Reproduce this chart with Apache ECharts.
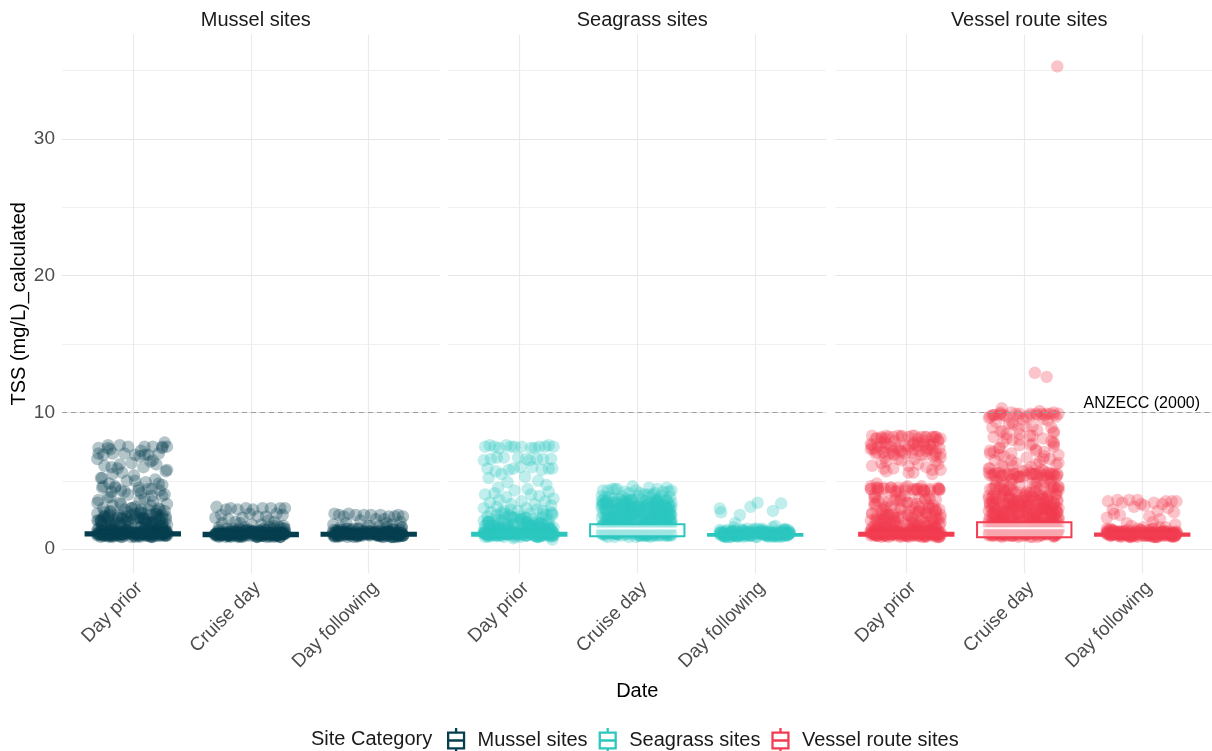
<!DOCTYPE html>
<html>
<head>
<meta charset="utf-8">
<script src="https://cdn.jsdelivr.net/npm/echarts@6/dist/echarts.min.js"></script>
<style>html,body{margin:0;padding:0;background:#fff}#chart{width:1212px;height:751px}</style>
</head>
<body>
<div id="chart"></div>
<script>
const DATES = ['Day prior', 'Cruise day', 'Day following'];
const SITES = ['Mussel sites', 'Seagrass sites', 'Vessel route sites'];
const COLORS = ['#053e4e', '#2bc7bf', '#f23c51'];
const Y_TICKS = [0, 5, 10, 15, 20, 25, 30, 35];
const Y_LABELS = [0, 10, 20, 30];
const X_TICKS = [1, 2, 3];
const ANZECC = 10;
const ANZECC_LABEL = 'ANZECC (2000)';
// fixed jitter offsets (category units), used cyclically
const JITTER = [-0.04, 0.25, -0.21, 0.10, -0.29, 0.17, -0.11, 0.29, -0.17, 0.02, 0.22, -0.25, 0.13, -0.07, 0.27, -0.19, 0.06, -0.30, 0.15, -0.01, 0.20, -0.24, 0.09, -0.13, 0.28, -0.09, 0.01, -0.27, 0.19, -0.05, 0.11, -0.20, 0.25, -0.15, 0.05, -0.26, 0.16, -0.10, 0.23, -0.18, 0.07];

// ---- Mussel sites ----
const musselPrior = [7.5,7.4,7.6,7.5,7.4,7.5,7.6,7.5,7.0,6.9,7.0,6.9,6.9,7.0,7.8,7.3,6.8,6.6,6.4,6.3,6.2,6.1,6.0,5.9,5.7,5.6,5.4,5.2,5.1,5.0,4.9,4.8,4.7,4.6,4.5,4.5,4.4,4.3,4.3,4.2,4.1,4.0,3.9,3.8,3.7,3.6,3.5,3.4,3.3,3.2,3.1,3.0,3.0,2.9,2.9,2.8,2.7,2.7,2.6,2.5,2.5,2.4,2.4,2.3,2.3,2.2,2.2,2.2,2.1,2.1,2.0,2.0,2.0,1.9,1.9,1.9,1.8,1.8,1.7,1.7,1.7,1.6,1.6,1.6,1.5,1.5,1.5,1.5,
1.1,1.0,1.2,0.9,1.3,1.1,1.0,1.4,1.2,1.1,0.9,1.0,1.3,1.2,1.1,1.0,1.2,1.1,1.3,0.9,1.0,1.1,1.4,1.2,1.0,1.1,1.3,1.0,1.2,1.1,0.9,1.2,1.0,1.1,1.3,1.4,1.1,1.0,1.2,1.1,1.0,1.3,1.2,0.9,1.1,1.0,1.2,1.3,1.1,1.0,1.4,1.2,1.1,1.0,0.9,1.2,1.3,1.1,1.0,1.2,1.1,1.0,1.3,1.2,1.4,1.1,0.9,1.0,1.2,1.1,1.3,1.0,1.1,1.2,1.0];
const musselPriorMore = [2.9,2.7,2.5,2.3,2.2,2.1,2.0,1.9,1.8,1.7,2.6,2.4,2.2,2.0,1.8,1.6,2.8,2.3,2.1,1.9,3.0,2.6,2.4,2.2,
1.2,1.0,1.1,1.3,0.9,1.2,1.1,1.0,1.3,1.1,1.2,1.0,1.4,1.1,0.9,1.2,1.0,1.1,1.3,1.2,1.0,1.1,1.2,0.9,1.3,1.1,1.0,1.2,1.1,1.0,1.4,1.2,1.1,1.3,1.0,1.2,0.9,1.1,1.2,1.0,1.3,1.1,1.0,1.2,1.1,1.0,1.3,1.2,1.1,1.0,1.2,1.1,1.0,1.3,1.1,1.2];
const musselPriorDense = [1.5,1.4,1.6,1.3,1.5,1.2,1.4,1.1,1.6,1.0,1.3,1.5,1.2,1.4,1.1,1.3,1.0,1.2,1.5,1.1,1.4,1.2,1.3,1.0,1.1,1.2,1.4,1.3,1.1,1.2,2.0,1.8,2.2,1.9,2.4,1.7,2.1,2.3,1.8,2.0,2.5,2.2,1.9,2.7,2.1];
const musselPriorUpper = [7.5,7.4,6.9,7.0,6.5,6.2,5.8,5.5,5.0,4.8,4.6,4.4,4.2,4.0,3.8,3.6,3.4,3.2,3.0,2.8,2.7,2.6,2.5,2.4,2.3,2.2,2.1,2.6,2.4,2.2,2.5,2.3,4.5,4.3,5.2,3.9,3.3,2.9,6.0,7.2];
const musselCruise = [3.0,3.0,2.9,3.0,3.1,3.0,2.9,3.0,3.0,2.9,2.6,2.5,2.4,2.3,2.5,2.2,2.4,2.3,2.1,2.6,2.0,1.9,1.8,2.0,1.7,1.9,1.8,1.6,1.7,1.6,1.5,1.5,1.6,1.5,
1.0,1.1,0.9,1.2,1.0,1.1,1.3,1.0,0.9,1.1,1.2,1.0,1.1,0.9,1.2,1.0,1.3,1.1,1.0,1.2,0.9,1.1,1.0,1.2,1.1,1.0,1.3,0.9,1.1,1.2,1.0,1.1,1.0,1.2,0.9,1.1,1.3,1.0,1.1,1.2,1.0,0.9,1.1,1.0,1.2,1.1,1.3,1.0,1.1,0.9,1.2,1.0,1.1,1.2,1.0,1.1,0.9,1.3,1.0,1.2,1.1,1.0,1.1,1.2,0.9,1.0,1.1,1.2,1.0,1.1];
const musselCruiseMore = [1.4,1.3,1.5,1.4,1.3,1.4,1.5,1.3,
1.1,1.0,1.2,1.1,0.9,1.0,1.2,1.1,1.3,1.0,1.1,1.2,0.9,1.1,1.0,1.2,1.1,1.0,1.3,1.1,1.0,1.2,1.1,0.9,1.0,1.2,1.1,1.0,1.1,1.2,1.0,1.3,1.1,1.0,1.2,1.1,0.9,1.1,1.0,1.2,1.1,1.0,1.2,1.1,1.3,1.0,1.1,1.2];
const musselCruiseDense = [1.2,1.0,1.3,1.1,1.4,1.2,0.9,1.3,1.1,1.0,1.2,1.5,1.1,1.3,1.0,1.2,1.4,1.1,1.2,1.0,1.3,1.1,1.2,1.4,1.0,1.1,1.3,1.2,1.1,1.0,1.2,1.3,1.1,1.4,1.2,1.0,1.1,1.3,1.2,1.1,1.6,1.5,1.7];
const musselFollowing = [2.5,2.5,2.4,2.5,2.6,2.4,2.5,2.4,2.6,2.5,2.4,2.5,2.2,2.1,2.0,1.9,2.2,1.8,1.9,1.7,1.8,1.6,1.7,1.5,1.6,1.5,
1.1,1.0,1.2,1.1,0.9,1.3,1.0,1.1,1.2,1.0,1.1,0.9,1.2,1.1,1.0,1.3,1.1,1.2,1.0,0.9,1.1,1.2,1.0,1.1,1.3,1.0,1.2,0.9,1.1,1.0,1.2,1.1,1.0,1.3,1.1,0.9,1.2,1.0,1.1,1.2,1.0,1.1,1.3,0.9,1.0,1.2,1.1,1.0,1.1,1.2,0.9,1.3,1.0,1.1,1.2,1.0,1.1,0.9,1.2,1.1,1.0,1.3,1.1,1.0,1.2,1.1,0.9,1.0,1.2,1.1];
const musselFollowingMore = [1.4,1.5,1.3,1.4,1.6,1.3,1.5,1.4,
1.0,1.2,1.1,1.0,1.3,1.1,0.9,1.2,1.0,1.1,1.2,1.0,1.1,1.3,1.0,1.2,1.1,0.9,1.1,1.2,1.0,1.1,1.3,1.0,1.2,1.1,1.0,1.1,1.2,0.9,1.0,1.2,1.1,1.0,1.3,1.1,1.2,1.0,1.1,1.2,1.0,1.1,0.9,1.2,1.1,1.0,1.3,1.1];
const musselFollowingDense = [1.3,1.1,1.2,1.0,1.4,1.2,1.1,1.3,1.0,1.2,1.5,1.1,1.3,1.2,1.0,1.4,1.1,1.2,1.3,1.0,1.1,1.2,1.4,1.3,1.1,1.0,1.2,1.1,1.3,1.2,1.0,1.1,1.4,1.2,1.3,1.1,1.6,1.5,1.7,1.4];
// box stats: [lower whisker, Q1, median, Q3, upper whisker]
const musselBox = [[0.85,1.0,1.1,1.25,1.6],[0.85,0.95,1.05,1.2,1.5],[0.85,0.98,1.08,1.2,1.5]];

// ---- Seagrass sites ----
const seagrassPrior = [7.5,7.6,7.5,7.4,7.5,7.5,7.6,7.5,7.4,7.5,7.5,7.6,7.4,7.5,6.6,6.7,6.6,6.5,6.6,6.7,6.6,6.6,6.5,6.7,5.9,5.8,6.0,5.9,5.8,5.9,6.0,5.7,5.9,5.5,5.3,5.2,5.0,4.9,4.7,4.5,4.4,4.3,4.2,4.1,4.0,4.0,3.9,3.8,3.7,3.6,3.5,3.5,3.4,3.3,3.3,3.2,3.1,3.0,3.0,2.9,2.8,2.8,2.7,2.6,2.6,2.5,2.5,2.4,2.4,2.3,2.3,2.2,2.2,2.1,2.1,2.0,2.0,2.0,1.9,1.9,1.9,1.8,1.8,1.8,1.7,1.7,1.7,1.6,1.6,1.6,1.5,1.5,1.5,1.5,1.4,1.4,1.4,
1.1,1.0,1.2,0.9,1.3,1.1,1.0,1.4,1.2,0.7,1.1,0.9,1.0,1.3,1.2,1.1,1.0,1.2,1.1,1.3,0.9,1.0,1.1,1.4,1.2,1.0,1.1,1.3,1.0,1.2,1.1,0.9,1.2,1.0,1.1,1.3,1.4,1.1,1.0,1.2,1.1,1.0,1.3,1.2,0.9,1.1,1.0,1.2,1.3,1.1,1.0,1.4,1.2,1.1,1.0,0.8,1.2,1.3,1.1,1.0,1.2,1.1,1.0,1.3,1.2,1.4,1.1,0.9,1.0,1.2,1.1,1.3,1.0,1.1,1.2,1.0,1.1,1.3,1.2,1.0];
const seagrassPriorMore = [2.9,2.7,2.5,2.3,2.1,2.0,1.9,1.8,1.7,1.6,2.8,2.6,2.4,2.2,2.0,1.9,1.8,1.7,1.6,1.5,2.7,2.3,2.0,1.8,1.6,2.5,2.1,1.7,
1.2,1.0,1.1,1.3,0.9,1.2,1.1,1.0,1.3,1.1,1.2,1.0,1.4,1.1,0.9,1.2,1.0,1.1,1.3,1.2,1.0,1.1,1.2,0.9,1.3,1.1,1.0,1.2,1.1,1.0,1.4,1.2,1.1,1.3,1.0,1.2,0.9,1.1,1.2,1.0,1.3,1.1];
const seagrassPriorDense = [1.5,1.3,1.7,1.2,1.9,1.4,1.1,1.6,2.2,1.3,1.8,1.0,2.4,1.5,1.2,2.0,1.4,1.7,1.1,2.6,1.3,1.6,1.9,1.2,1.5,2.1,1.0,1.4,2.3,1.8,1.2,1.6,1.1,1.3,2.0,1.5,1.7,1.2,1.4,1.9,1.3,1.1,1.6,1.5,1.2];
const seagrassCruise = [4.6,4.5,4.4,4.5,4.3,4.4,4.2,4.3,4.4,4.1,4.2,4.3,4.0,4.1,4.2,4.4,4.0,3.9,4.1,4.3,
3.9,3.8,4.0,3.9,3.8,3.7,3.9,3.8,3.7,3.6,3.8,3.7,3.6,3.7,3.6,3.5,3.6,3.5,3.6,3.5,
3.5,3.4,3.5,3.4,3.4,3.3,3.4,3.3,3.4,3.3,3.3,3.2,3.3,3.2,3.2,3.1,3.2,3.1,3.2,3.1,
3.1,3.0,3.1,3.0,3.0,2.9,3.0,2.9,3.0,2.9,2.9,2.8,2.9,2.8,2.8,2.7,2.8,2.7,2.8,2.7,
2.7,2.6,2.7,2.6,2.6,2.5,2.6,2.5,2.6,2.5,2.5,2.4,2.5,2.4,2.4,2.3,2.4,2.3,2.4,2.3,
2.3,2.2,2.3,2.2,2.2,2.1,2.2,2.1,2.2,2.1,2.1,2.0,2.1,2.0,2.0,1.9,2.0,1.9,2.0,1.9,
1.9,1.8,1.9,1.8,1.9,1.8,1.8,1.7,1.8,1.7,1.8,1.7,1.7,1.6,1.7,1.6,1.7,1.6,1.6,1.5,
1.6,1.5,1.6,1.5,1.5,1.4,1.5,1.4,1.5,1.4,1.4,1.3,1.4,1.3,1.4,1.3,1.3,1.2,1.3,1.2,
1.3,1.2,1.2,1.1,1.2,1.1,1.2,1.1,1.1,1.0,1.1,1.0,1.1,1.0,1.0,0.9,1.0,0.9,1.0,0.9,
1.1,1.2,1.0,1.3,1.1,1.4,1.2,1.0,1.5,1.1,1.3,1.2,1.0,1.4,1.6,1.1,1.2,1.3,1.0,1.5];
const seagrassCruiseMore = [3.6,3.4,3.2,3.0,2.8,2.6,2.4,2.2,2.0,1.8,3.5,3.3,3.1,2.9,2.7,2.5,2.3,2.1,1.9,1.7,
3.4,3.2,3.0,2.8,2.6,2.4,2.2,2.0,1.8,1.6,3.3,3.1,2.9,2.7,2.5,2.3,2.1,1.9,1.7,1.5,
3.5,3.0,2.5,2.0,1.5,3.2,2.7,2.2,1.7,1.4,3.6,2.9,2.4,1.9,1.3,3.1,2.6,2.1,1.6,1.2,
1.4,1.2,1.0,1.3,1.1,0.9,1.5,1.2,1.0,1.3,1.1,1.4,1.2,1.0,1.3,1.1,0.9,1.2,1.0,1.1,
1.6,1.4,1.2,1.8,1.3,1.1,1.7,1.5,1.0,1.9,1.4,1.2,1.6,1.3,1.1,1.5,1.0,1.7,1.2,1.4];
const seagrassCruiseDense = [3.5,2.9,2.3,1.7,1.1,3.3,2.7,2.1,1.5,1.0,3.1,2.5,1.9,1.3,3.4,2.8,2.2,1.6,1.2,3.0,
2.4,1.8,1.4,3.2,2.6,2.0,1.5,1.1,3.6,2.9,2.3,1.8,1.3,3.4,2.7,2.1,1.6,1.0,3.1,2.5,
2.0,1.4,3.3,2.8,2.2,1.7,1.2,3.0,2.4,1.9,1.5,3.5,2.6,2.1,1.6,1.1,3.2,2.5,1.8,1.3,
2.9,2.3,1.7,1.2,3.4,2.7,2.0,1.5,1.0,3.1,2.4,1.9,1.4,3.3,2.6,2.2,1.6,1.1,2.8,2.1,
1.7,1.3,3.0,2.5,1.8,1.2,3.5,2.7,2.3,1.6,1.4,3.2,2.9,2.0,1.5,1.1,2.4,1.9,3.6,2.2];
const seagrassFollowing = [3.1,1.4,1.2,1.3,2.7,1.1,1.4,1.2,1.9,3.4,3.35,1.3,1.1,1.5,1.0,1.2,1.4,2.98,2.8,1.3,1.1,1.4,1.0,2.5,
1.1,1.0,1.2,1.1,0.9,1.3,1.0,1.1,1.2,1.0,1.1,0.9,1.2,1.1,1.0,1.3,1.1,1.2,1.0,0.9,1.1,1.2,1.0,1.1,1.3,1.0,1.2,0.9,1.1,1.0,1.2,1.1,1.0,1.3,1.1,0.9,1.2,1.0,1.1,1.2,1.0,1.1,1.3,0.9,1.0,1.2,1.1,1.0,1.1,1.2,0.9,1.3,1.0,1.1,1.2,1.0,1.6,1.1,1.0,1.5,1.2,1.1,1.0,1.7,1.1];
const seagrassFollowingMore = [1.2,1.0,1.1,1.3,0.9,1.2,1.1,1.0,1.3,1.1,1.2,1.0,1.4,1.1,0.9,1.2,1.0,1.1,1.3,1.2,1.0,1.1,1.2,0.9,1.3,1.1,1.0,1.2,1.1,1.0,1.4,1.2,1.1,1.3,1.0,1.2,0.9,1.1,1.2,1.0,1.3,1.1,1.0,1.2,1.1,1.0,1.3,1.2,1.1,1.0,1.5,1.4,1.6,1.5];
const seagrassFollowingDense = [1.1,1.3,1.0,1.2,1.4,1.1,0.9,1.2,1.3,1.0,1.1,1.2,1.4,1.0,1.3,1.1,1.2,0.9,1.1,1.3,1.2,1.0,1.4,1.1,1.2,1.3,1.0,1.1,1.2,1.4,1.5,1.3,1.1,1.2,1.0];
const seagrassBox = [[0.8,0.98,1.08,1.2,1.5],[0.85,0.95,1.52,1.83,3.15],[0.8,0.98,1.05,1.12,1.3]];

// ---- Vessel route sites ----
const vesselPrior = [8.3,8.2,8.2,8.1,8.3,8.2,8.2,8.1,8.3,8.2,8.2,8.1,8.2,8.3,
7.9,7.8,7.8,7.7,7.7,7.6,7.6,7.5,7.5,7.5,7.4,7.4,7.3,7.3,7.3,7.2,7.2,7.1,7.1,7.0,7.0,7.0,6.9,6.9,
6.8,6.7,6.6,6.5,6.4,6.3,6.2,6.1,6.0,5.9,5.8,5.7,5.6,5.5,
4.8,4.6,4.5,4.5,4.4,4.4,4.4,4.3,4.3,4.3,4.5,4.4,4.3,4.4,4.2,4.6,
4.0,3.9,3.8,3.7,3.6,3.6,3.5,3.4,3.3,3.7,3.6,
3.2,3.1,3.0,2.9,2.8,2.7,2.7,2.6,2.6,2.5,2.5,3.0,2.8,
2.4,2.4,2.3,2.3,2.2,2.2,2.1,2.1,2.0,2.0,2.0,1.9,1.9,1.9,1.8,1.8,1.8,1.7,1.7,1.7,1.6,1.6,1.6,1.5,1.5,1.5,2.3,2.1,1.9,1.7,
1.1,1.0,1.2,0.9,1.3,1.1,1.0,1.4,1.2,1.1,0.9,1.0,1.3,1.2,1.1,1.0,1.2,1.1,1.3,0.9,1.0,1.1,1.4,1.2,1.0,1.1,1.3,1.0,1.2,1.1,0.9,1.2,1.0,1.1,1.3,1.4,1.1,1.0,1.2,1.1,1.0,1.3,1.2,0.9,1.1,1.0,1.2,1.3,1.1,1.0,1.4,1.2,1.1,1.0,0.9,1.2,1.3,1.1,1.0,1.2,1.1,1.0,1.3,1.2,1.4,1.1,0.9,1.0,1.2,1.1,1.3,1.0,1.1,1.2,1.0,1.1,1.3,1.2,1.0,1.4];
const vesselPriorMore = [8.2,8.1,8.3,8.2,8.2,8.1,7.8,7.6,7.4,7.2,7.0,7.7,7.5,7.3,7.1,6.9,6.6,6.2,5.9,5.6,
4.4,4.3,4.5,4.4,4.3,4.4,4.5,4.3,3.6,3.4,3.2,3.0,3.5,3.1,
2.9,2.7,2.5,2.3,2.1,1.9,1.7,1.5,2.8,2.6,2.4,2.2,2.0,1.8,1.6,2.7,2.3,1.9,1.6,2.5,
1.2,1.0,1.1,1.3,0.9,1.2,1.1,1.0,1.3,1.1,1.2,1.0,1.4,1.1,0.9,1.2,1.0,1.1,1.3,1.2,1.0,1.1,1.2,0.9,1.3,1.1,1.0,1.2,1.1,1.0,1.4,1.2,1.1,1.3,1.0,1.2,0.9,1.1,1.2,1.0,1.3,1.1,1.5,1.4];
const vesselPriorDense = [7.4,8.0,7.1,7.7,7.3,7.9,7.0,7.6,4.4,4.3,4.5,4.4,4.2,3.4,3.8,3.1,3.6,
2.8,2.2,1.6,2.5,1.9,1.3,2.7,2.0,1.5,2.4,1.8,1.2,2.9,2.1,1.4,2.6,1.7,1.1,2.3,1.6,1.0,3.0,2.2,1.5,
1.3,1.1,1.2,1.0,1.4,1.2,1.1,1.3,1.0,1.2,1.5,1.1,1.3,1.2,1.0,1.4,1.1,1.2,1.3,1.6];
const vesselPriorUpper = [8.2,8.3,8.1,8.2,7.9,7.7,7.5,7.3,7.1,6.9,7.8,7.6,7.4,7.2,7.0,6.7,6.4,6.1,5.8,4.5,4.4,4.3,4.4,4.5,4.3,4.6,4.2,3.9,3.7,3.5,3.3,3.1,2.9,2.7,2.5,3.4,3.2,3.0,2.8,2.6,2.4,2.2,2.0,3.8,3.6,2.3,2.1,1.9,1.7,1.5];
const vesselCruise = [9.9,10.0,9.8,9.9,9.7,9.8,10.0,9.9,9.8,9.7,9.9,9.8,10.1,9.9,9.7,10.3,9.8,9.6,9.9,9.5,9.4,9.3,
12.9,9.2,35.3,9.1,9.0,8.9,12.6,
8.8,8.7,8.6,8.5,8.4,8.3,8.2,8.1,8.0,7.9,7.8,7.7,7.6,7.5,7.4,7.3,7.2,7.1,7.0,6.9,6.8,6.7,6.6,6.5,6.4,6.3,6.2,6.1,6.0,5.9,
5.8,5.7,5.6,5.6,5.5,5.5,5.5,5.5,5.4,5.4,5.4,5.3,5.3,5.3,5.5,5.4,5.6,5.5,5.2,5.1,5.0,4.9,4.8,4.7,4.6,4.5,4.5,4.4,4.4,4.3,4.3,4.2,4.2,4.1,4.1,4.0,4.0,4.0,3.9,3.9,3.9,3.8,3.8,3.8,3.7,3.7,3.7,3.6,3.6,3.6,3.5,3.5,3.5,3.5,
3.4,3.4,3.3,3.4,3.3,3.4,3.3,3.2,3.3,3.2,3.3,3.2,3.1,3.2,3.1,3.2,3.1,3.0,3.1,3.0,
3.1,3.0,2.9,3.0,2.9,3.0,2.9,2.8,2.9,2.8,2.9,2.8,2.7,2.8,2.7,2.8,2.7,2.6,2.7,2.6,
2.7,2.6,2.5,2.6,2.5,2.6,2.5,2.4,2.5,2.4,2.5,2.4,2.3,2.4,2.3,2.4,2.3,2.2,2.3,2.2,
2.3,2.2,2.1,2.2,2.1,2.2,2.1,2.0,2.1,2.0,2.1,2.0,1.9,2.0,1.9,2.0,1.9,1.8,1.9,1.8,
1.9,1.8,1.7,1.8,1.7,1.8,1.7,1.6,1.7,1.6,1.7,1.6,1.5,1.6,1.5,1.6,1.5,1.4,1.5,1.4,
1.5,1.4,1.3,1.4,1.3,1.4,1.3,1.2,1.3,1.2,1.3,1.2,1.1,1.2,1.1,1.2,1.1,1.0,1.1,1.0,
1.1,1.0,0.9,1.0,0.9,1.0,0.9,1.1,1.2,1.0,1.3,1.1,1.4,1.2,1.0,1.5,1.1,1.3,1.2,1.0,
1.4,1.6,1.1,1.2,1.3,1.0,1.5,1.1,0.9,1.2,1.7,1.0,1.3,1.8,1.1,1.4,1.0,1.2,1.6,1.1];
const vesselCruiseMore = [9.8,9.9,9.7,9.8,10.0,8.6,8.1,7.6,7.1,6.6,6.1,
5.5,5.4,5.5,5.3,5.4,5.6,5.5,5.4,4.9,4.7,4.5,4.3,4.1,4.8,4.6,4.4,4.2,4.0,
3.9,3.8,3.7,3.6,3.5,3.9,3.7,3.6,3.8,3.5,
3.4,3.2,3.0,2.8,2.6,2.4,2.2,2.0,1.8,1.6,3.3,3.1,2.9,2.7,2.5,2.3,2.1,1.9,1.7,1.5,
3.4,3.0,2.6,2.2,1.8,3.2,2.8,2.4,2.0,1.6,3.1,2.7,2.3,1.9,1.5,3.3,2.9,2.5,2.1,1.7,
1.4,1.2,1.0,1.3,1.1,0.9,1.5,1.2,1.0,1.3,1.1,1.4,1.2,1.0,1.3,1.1,0.9,1.2,1.0,1.1,
1.6,1.4,1.2,1.8,1.3,1.1,1.7,1.5,1.0,1.9,1.4,1.2,1.6,1.3,1.1,1.5,1.0,1.7,1.2,1.4];
const vesselCruiseDense = [3.3,2.7,2.1,1.5,1.0,3.1,2.5,1.9,1.3,3.4,2.8,2.2,1.6,1.1,3.0,2.4,1.8,1.2,3.2,2.6,
2.0,1.4,3.3,2.9,2.3,1.7,1.1,3.1,2.5,1.9,1.3,3.4,2.7,2.1,1.6,1.0,3.0,2.4,1.8,1.2,
2.6,2.0,1.5,3.2,2.8,2.2,1.7,1.1,2.9,2.3,1.9,1.4,3.3,2.5,2.0,1.3,3.0,2.7,2.1,1.6,
1.2,1.0,1.4,1.1,1.3,1.2,1.5,1.0,1.1,1.3,1.2,1.4,1.1,1.0,1.2,1.3,1.6,1.1,1.4,1.2,
4.6,4.2,3.8,5.4,5.5,3.9,4.4,3.7,5.3,4.0];
const vesselCruiseUpper = [9.9,9.8,9.7,9.9,9.8,9.5,9.2,8.9,8.6,8.3,8.0,7.7,7.4,7.2,7.0,6.8,6.5,6.3,6.0,5.8,
5.5,5.4,5.6,5.5,5.3,5.4,5.5,5.6,5.4,5.3,5.2,5.0,4.8,4.6,4.4,4.2,4.0,3.8,3.6,3.5,
4.9,4.7,4.5,4.3,4.1,3.9,3.7,3.6,4.5,4.4,9.0,8.4,7.8,6.9,6.2,5.9,5.7,5.1,4.6,4.0];
const vesselFollowing = [3.6,3.5,3.6,3.4,3.5,3.3,3.6,3.5,3.4,3.2,3.0,2.9,2.8,3.1,2.7,2.5,2.4,2.3,2.2,3.3,3.5,2.6,2.0,1.9,1.8,1.7,1.6,1.5,
1.1,1.0,1.2,1.1,0.9,1.3,1.0,1.1,1.2,1.0,1.1,0.9,1.2,1.1,1.0,1.3,1.1,1.2,1.0,0.9,1.1,1.2,1.0,1.1,1.3,1.0,1.2,0.9,1.1,1.0,1.2,1.1,1.0,1.3,1.1,0.9,1.2,1.0,1.1,1.2,1.0,1.1,1.3,0.9,1.0,1.2,1.1,1.0,1.1,1.2,0.9,1.3,1.0,1.1,1.2,1.0,1.1,0.9,1.2,1.1,1.0,1.3,1.1,1.0,1.2,1.1,0.9,1.0,1.2,1.1];
const vesselFollowingMore = [1.4,1.5,1.3,1.4,1.6,1.3,1.5,1.4,
1.0,1.2,1.1,1.0,1.3,1.1,0.9,1.2,1.0,1.1,1.2,1.0,1.1,1.3,1.0,1.2,1.1,0.9,1.1,1.2,1.0,1.1,1.3,1.0,1.2,1.1,1.0,1.1,1.2,0.9,1.0,1.2,1.1,1.0,1.3,1.1,1.2,1.0,1.1,1.2,1.0,1.1,0.9,1.2,1.1,1.0,1.3,1.1];
const vesselFollowingDense = [1.2,1.0,1.3,1.1,1.4,1.2,1.0,1.1,1.3,1.2,1.5,1.1,1.0,1.2,1.4,1.3,1.1,1.2,1.0,1.3,1.1,1.4,1.2,1.1,1.0,1.3,1.2,1.1,1.6,1.4,1.2,1.3,1.5,1.1,1.0];
const vesselBox = [[0.85,0.98,1.08,1.2,1.5],[0.85,0.88,1.54,1.98,3.6],[0.85,0.98,1.05,1.15,1.4]];

const CLUSTERS = [
  [musselPrior.concat(musselPriorMore, musselPriorDense, musselPriorUpper), musselCruise.concat(musselCruiseMore, musselCruiseDense), musselFollowing.concat(musselFollowingMore, musselFollowingDense)],
  [seagrassPrior.concat(seagrassPriorMore, seagrassPriorDense), seagrassCruise.concat(seagrassCruiseMore, seagrassCruiseDense), seagrassFollowing.concat(seagrassFollowingMore, seagrassFollowingDense)],
  [vesselPrior.concat(vesselPriorMore, vesselPriorDense, vesselPriorUpper), vesselCruise.concat(vesselCruiseMore, vesselCruiseDense, vesselCruiseUpper), vesselFollowing.concat(vesselFollowingMore, vesselFollowingDense)]
];
const BOXES = [musselBox, seagrassBox, vesselBox];

// ---- layout ----
const FONT = '"Liberation Sans", Arial, sans-serif';
const GRID_LEFTS = [62, 448.5, 835.5];
const GRID_W = 377.5;
const GRID_TOP = 34.3;
const GRID_H = 539;
const BOX_HALF = 0.4;
const BOX_ICON = 'path://M0,3L16,3L16,19L0,19ZM2,5L2,10L14,10L14,5ZM2,12L2,17L14,17L14,12ZM7,0L9,0L9,3L7,3ZM7,19L9,19L9,22L7,22Z';

function renderBox(params, api) {
  const c = api.value(0);
  const lo = api.value(1), q1 = api.value(2), med = api.value(3), q3 = api.value(4), hi = api.value(5);
  const color = api.visual('color');
  const tl = api.coord([c - BOX_HALF, q3]);
  const br = api.coord([c + BOX_HALF, q1]);
  const mid = api.coord([c, med]);
  const top = api.coord([c, hi]);
  const bot = api.coord([c, lo]);
  const tall = (br[1] - tl[1]) > 6;
  const children = [
    {type: 'line', shape: {x1: top[0], y1: top[1], x2: top[0], y2: tl[1]}, style: {stroke: color, lineWidth: 2, opacity: 0.5}},
    {type: 'line', shape: {x1: bot[0], y1: br[1], x2: bot[0], y2: bot[1]}, style: {stroke: color, lineWidth: 2}},
    {type: 'rect', shape: {x: tl[0], y: tl[1], width: br[0] - tl[0], height: br[1] - tl[1]},
      style: {fill: tall ? 'rgba(255,255,255,0.55)' : color, stroke: color, lineWidth: 2}}
  ];
  if (tall) {
    children.push({type: 'line', shape: {x1: tl[0] + 2, y1: mid[1], x2: br[0] - 2, y2: mid[1]},
      style: {stroke: 'rgba(255,255,255,0.95)', lineWidth: 2}});
  }
  return {type: 'group', children};
}

const grids = [], xAxes = [], yAxes = [], series = [], titles = [];
SITES.forEach((site, s) => {
  grids.push({left: GRID_LEFTS[s], top: GRID_TOP, width: GRID_W, height: GRID_H, containLabel: false, outerBoundsMode: 'none'});
  xAxes.push({
    type: 'value', gridIndex: s, min: 0.4, max: 3.6,
    axisLine: {show: false},
    axisTick: {show: false, customValues: X_TICKS},
    axisLabel: {customValues: X_TICKS, formatter: v => DATES[Math.round(v) - 1], rotate: 45, margin: 5,
      verticalAlign: 'top', color: '#4d4d4d', fontSize: 19, fontFamily: FONT},
    splitLine: {show: true, lineStyle: {color: '#ebebeb', width: 1.2}},
    name: s === 1 ? 'Date' : '', nameLocation: 'middle', nameGap: 108,
    nameTextStyle: {color: '#000', fontSize: 20, fontFamily: FONT}
  });
  yAxes.push({
    type: 'value', gridIndex: s, min: -1.76, max: 37.65,
    axisLine: {show: false},
    axisTick: {show: false, customValues: Y_TICKS},
    axisLabel: {show: s === 0, customValues: Y_LABELS, margin: 7, color: '#4d4d4d', fontSize: 19, fontFamily: FONT},
    splitLine: {show: true, lineStyle: {color: ['#e6e6e6', '#f0f0f0'], width: 1.2}},
    name: s === 0 ? 'TSS (mg/L)_calculated' : '', nameLocation: 'middle', nameGap: 33, nameMoveOverlap: false,
    nameTextStyle: {color: '#000', fontSize: 20, fontFamily: FONT}
  });
  titles.push({
    text: site, left: GRID_LEFTS[s] + GRID_W / 2, top: 5, textAlign: 'center',
    textStyle: {color: '#1a1a1a', fontSize: 20, fontWeight: 'normal', fontFamily: FONT}
  });
  // box summaries (drawn above points)
  series.push({
    type: 'custom', name: site, xAxisIndex: s, yAxisIndex: s, z: 5,
    itemStyle: {color: COLORS[s]},
    renderItem: renderBox,
    encode: {x: 0, y: [1, 2, 3, 4, 5]},
    data: BOXES[s].map((b, c) => [c + 1].concat(b)),
    silent: true
  });
  const pts = [];
  CLUSTERS[s].forEach((vals, c) => {
    vals.forEach((v, i) => pts.push([c + 1 + JITTER[i % JITTER.length], v]));
  });
  series.push({
    type: 'scatter', name: site, xAxisIndex: s, yAxisIndex: s, z: 2,
    symbol: 'circle', symbolSize: 12.5,
    itemStyle: {color: COLORS[s], opacity: 0.3},
    data: pts,
    silent: true,
    markLine: {
      silent: true, symbol: 'none', animation: false,
      lineStyle: {color: '#9e9e9e', type: [5, 4], width: 1},
      label: {show: s === 2, formatter: ANZECC_LABEL, position: 'insideEndTop', color: '#000',
        fontSize: 16, fontFamily: FONT, distance: [13, 1]},
      data: [{yAxis: ANZECC}]
    }
  });
});

titles.push({
  text: 'Site Category', left: 306, top: 724,
  textStyle: {color: '#1a1a1a', fontSize: 20, fontWeight: 'normal', fontFamily: FONT}
});

const chart = echarts.init(document.getElementById('chart'), null, {renderer: 'canvas'});
chart.setOption({
  animation: false,
  backgroundColor: '#ffffff',
  title: titles,
  grid: grids,
  xAxis: xAxes,
  yAxis: yAxes,
  legend: {
    left: 442, top: 723, orient: 'horizontal',
    itemWidth: 33, itemHeight: 25, itemGap: 11,
    selectedMode: false,
    textStyle: {color: '#1a1a1a', fontSize: 20, fontFamily: FONT},
    data: SITES.map((n, i) => ({name: n, icon: BOX_ICON, itemStyle: {color: COLORS[i], opacity: 1}}))
  },
  series: series
});
</script>
</body>
</html>
